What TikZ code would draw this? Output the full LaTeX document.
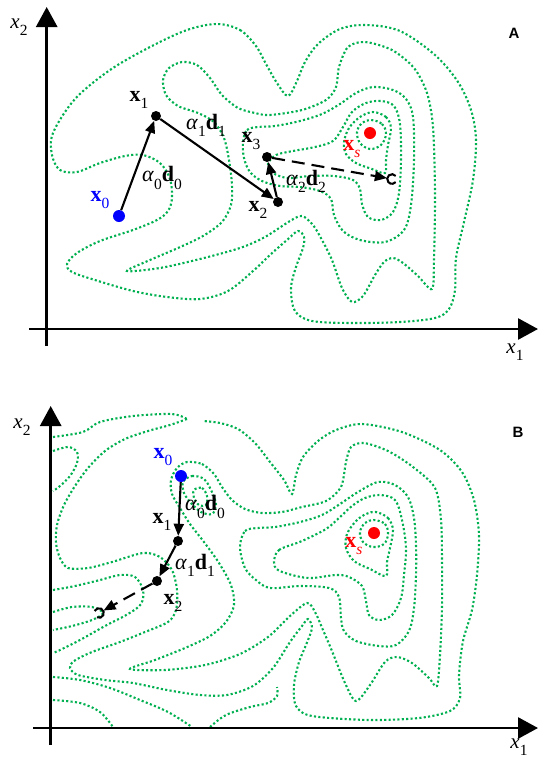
\documentclass[tikz,border=0pt]{standalone}
\usepackage{fontspec}
\setmainfont{Liberation Serif}
\newfontfamily\panelfont{Liberation Sans}
\usetikzlibrary{arrows.meta}
\definecolor{cgreen}{RGB}{0,176,80}
\definecolor{pblue}{RGB}{0,0,255}
\definecolor{pred}{RGB}{255,0,0}
\newcommand\sbs[1]{\raisebox{-0.33em}{\fontsize{15.5}{16}\selectfont\mdseries\upshape #1}}
\tikzset{
  contour/.style={draw=cgreen, line width=2.1pt, dash pattern=on 2.1pt off 2.3pt},
  axisline/.style={line width=2.8pt, -{Triangle[length=20pt,width=21pt]}},
  arr/.style={line width=2.1pt, -{Triangle[length=12pt,width=10pt]}},
  darr/.style={arr, dash pattern=on 13pt off 7pt},
  dotpt/.style={circle, fill=black, inner sep=0pt, minimum size=10pt},
  bluept/.style={dotpt, fill=pblue, minimum size=12pt},
  redpt/.style={dotpt, fill=pred, minimum size=12pt},
  endpt/.style={circle, inner sep=0pt, minimum size=10pt},
  lab/.style={font=\fontsize{22}{24}\selectfont, inner sep=0pt},
  axlab/.style={font=\fontsize{21}{22}\selectfont, inner sep=0pt},
  panellab/.style={font=\fontsize{15}{17}\selectfont\panelfont\bfseries, inner sep=0pt}
}
\begin{document}
\begin{tikzpicture}[x=1pt,y=-1pt]
\useasboundingbox (0,0) rectangle (539,761);

% ================= PANEL A =================
\draw[contour] plot[smooth cycle, tension=0.55] coordinates {
(217,24) (240,30) (256,46) (266,64) (277,83) (288,96) (297,81) (305,62) (318,44) (340,29) (366,25) (400,31) (435,55) (458,82) (471,110) (476,140) (473,180) (464,222) (456,258) (455,290) (449,309) (435,318) (400,322) (352,323) (312,321) (295,311) (291,288) (296,267) (303,248) (304,237) (298,231) (287,240) (271,254) (253,271) (228,291) (200,299) (167,297) (133,291) (95,280) (72,272) (67,264) (77,253) (100,241) (133,230) (157,220) (168,211) (172,198) (170,179) (160,163) (143,155) (125,156) (100,163) (77,172) (60,170) (52,155) (53,133) (75,99) (110,70) (150,47) (187,30)};
\draw[contour] plot[smooth cycle, tension=0.5] coordinates {
(182,62) (197,65) (210,78) (222,95) (238,108) (255,113) (270,115) (302,110) (326,100) (336,87) (339,67) (348,47) (365,42) (392,50) (414,68) (427,93) (433,127) (435,193) (434,260) (432,289) (418,276) (403,263) (393,258) (384,262) (375,275) (363,296) (352,302) (342,288) (332,260) (322,240) (313,225) (302,216) (290,221) (265,237) (240,248) (200,259) (160,268) (127,271) (150,260) (178,248) (203,236) (222,222) (231,205) (232,185) (229,160) (224,138) (214,122) (198,113) (178,106) (166,95) (163,80) (169,68)};
\draw[contour] plot[smooth cycle, tension=0.55] coordinates {
(243,142) (247,130) (258,127) (275,126) (300,121) (322,114) (340,104) (356,93) (373,87) (393,90) (406,99) (413,117) (414,160) (411,205) (404,230) (385,242) (360,240) (343,231) (334,215) (331,199) (320,191) (300,187) (280,186) (262,181) (250,172) (244,158)};
\draw[contour] plot[smooth cycle, tension=0.55] coordinates {
(268,164) (276,155) (293,151) (315,147) (333,141) (343,127) (352,112) (366,103) (381,101) (394,106) (400,124) (401,160) (399,193) (393,212) (381,220) (368,217) (362,204) (360,189) (353,180) (334,176) (310,176) (288,178) (273,173)};
\draw[contour] plot[smooth cycle, tension=0.55] coordinates {
(373,112) (386,117) (391,128) (388,145) (386,160) (385,173) (372,169) (356,163) (346,154) (344,142) (349,128) (360,117)};
\draw[contour] plot[smooth cycle, tension=0.6] coordinates {
(371,120) (382,124) (386,134) (381,145) (370,149) (360,143) (357,132) (362,123)};

\coordinate (AyB) at (46.7,346);
\coordinate (AyT) at (46.7,7);
\coordinate (AxL) at (29,329);
\coordinate (AxR) at (538,329);
\draw[axisline] (AyB) -- (AyT);
\draw[axisline] (AxL) -- (AxR);
\node[axlab] (ax2) at (19,27) {\textit{x}\sbs{2}};
\node[axlab] (ax1) at (515,352) {\textit{x}\sbs{1}};
\node[panellab] (pA) at (514,33) {A};

\node[bluept] (a0) at (119,216) {};
\node[dotpt] (a1) at (156,116) {};
\node[dotpt] (a2) at (278,202) {};
\node[dotpt] (a3) at (267,157) {};
\node[redpt] (aS) at (370,133) {};
\node[endpt] (aC) at (392,179) {};
\draw[line width=2.1pt] (aC.center) ++(40:4.8pt) arc[start angle=40, end angle=320, radius=4.8pt];

\draw[arr] (a0) -- (a1);
\draw[arr] (a1) -- (a2);
\draw[arr] (a2) -- (a3);
\draw[darr] (a3) -- (aC);

\node[lab, text=pblue] (la0) at (100,200) {\textbf{x}\sbs{0}};
\node[lab] (la1) at (139,100) {\textbf{x}\sbs{1}};
\node[lab] (la2) at (258,210) {\textbf{x}\sbs{2}};
\node[lab] (la3) at (251,141) {\textbf{x}\sbs{3}};
\node[lab] (lad0) at (162,178) {\textit{α}\sbs{0}\textbf{d}\sbs{0}};
\node[lab] (lad1) at (206,125) {\textit{α}\sbs{1}\textbf{d}\sbs{1}};
\node[lab] (lad2) at (306,181) {\textit{α}\sbs{2}\textbf{d}\sbs{2}};
\node[lab, text=pred] (laS) at (352,149) {\textbf{x}\sbs{\itshape s}};

% ================= PANEL B =================
\draw[contour] plot[smooth, tension=0.5] coordinates {
(53,437) (83,432) (100,422) (133,416) (172,414) (187,419)};
\draw[contour] plot[smooth, tension=0.5] coordinates {
(187,419) (170,425) (148,431) (125,439) (105,451) (88,468) (75,486) (64,505) (57,525) (56,543) (60,558) (68,568) (88,568) (112,562) (143,553) (160,557) (172,570) (177,590) (176,610) (168,622) (145,632) (120,642) (92,652) (74,661) (70,668) (78,675) (105,680) (133,683) (167,690) (200,695) (227,695) (253,686) (273,668) (290,642) (302,626) (308,619) (312,628) (306,645) (299,662) (294,685) (296,706) (312,716) (369,720) (419,718) (450,711) (460,698) (459,675) (463,641) (472,610) (477,575) (479,535) (474,500) (462,472) (440,450) (402,432) (362,424) (336,430) (318,441) (303,457) (296,475) (292,494) (284,480) (270,462) (255,443) (238,429) (220,423) (203,421)};
\draw[contour] plot[smooth, tension=0.55] coordinates {
(53,451) (68,447) (77,452) (77,463) (70,476) (60,486) (53,491)};
\draw[contour] plot[smooth, tension=0.55] coordinates {
(53,590) (75,586) (100,580) (120,575) (135,577) (143,590) (141,604) (128,614) (105,626) (80,640) (60,650) (53,653)};
\draw[contour] plot[smooth, tension=0.55] coordinates {
(53,612) (72,607) (92,607) (103,613) (92,620) (72,626) (53,630)};
\draw[contour] plot[smooth, tension=0.55] coordinates {
(53,677) (80,680) (110,688) (140,700) (168,712) (192,727)};
\draw[contour] plot[smooth, tension=0.55] coordinates {
(53,700) (80,703) (100,712) (113,727)};
\draw[contour] plot[smooth, tension=0.55] coordinates {
(210,727) (226,715) (250,707) (268,703) (277,696) (277,687)};
\draw[contour] plot[smooth cycle, tension=0.5] coordinates {
(187,462) (202,464) (214,474) (222,487) (232,500) (245,509) (262,513) (282,512) (302,507) (326,501) (341,487) (346,462) (351,447) (364,443) (388,451) (413,467) (435,488) (441,520) (442,560) (442,608) (440,655) (437,686) (429,678) (412,663) (397,657) (385,662) (370,685) (356,701) (345,683) (332,651) (323,630) (315,612) (307,603) (290,616) (268,637) (240,654) (205,665) (165,670) (130,669) (155,660) (185,648) (210,636) (226,622) (234,605) (231,585) (219,563) (204,542) (190,524) (180,508) (172,494) (171,480) (177,468)};
\draw[contour] plot[smooth cycle, tension=0.55] coordinates {
(183,482) (192,476) (204,479) (211,490) (216,504) (212,514) (201,512) (191,503) (184,493)};
\draw[contour] plot[smooth cycle, tension=0.6] coordinates {
(194,490) (202,488) (207,496) (206,505) (199,505) (194,498)};
\draw[contour] plot[smooth cycle, tension=0.55] coordinates {
(240,547) (245,531) (258,528) (275,527) (300,522) (322,515) (340,504) (358,492) (378,482) (395,485) (408,497) (414,518) (416,545) (416,575) (414,608) (409,631) (396,645) (379,646) (356,641) (344,631) (341,618) (339,597) (329,588) (300,586) (270,588) (256,580) (245,568)};
\draw[contour] plot[smooth cycle, tension=0.55] coordinates {
(274,562) (279,550) (302,541) (326,529) (339,518) (352,506) (365,498) (380,495) (395,500) (402,520) (406,548) (404,575) (401,598) (392,615) (379,620) (369,615) (366,601) (362,586) (349,577) (336,575) (312,578) (296,576) (278,570)};
\draw[contour] plot[smooth cycle, tension=0.55] coordinates {
(376,512) (388,518) (393,530) (390,548) (387,562) (386,576) (370,569) (354,561) (346,548) (347,534) (356,521) (366,514)};
\draw[contour] plot[smooth cycle, tension=0.6] coordinates {
(374,520) (385,524) (388,534) (384,544) (373,547) (363,542) (360,532) (365,523)};

\coordinate (ByB) at (50.7,745);
\coordinate (ByT) at (50.7,406);
\coordinate (BxL) at (33,728);
\coordinate (BxR) at (538,728);
\draw[axisline] (ByB) -- (ByT);
\draw[axisline] (BxL) -- (BxR);
\node[axlab] (bx2) at (22,427) {\textit{x}\sbs{2}};
\node[axlab] (bx1) at (519,747) {\textit{x}\sbs{1}};
\node[panellab] (pB) at (518,432) {B};

\node[bluept] (b0) at (181,476) {};
\node[dotpt] (b1) at (178,541) {};
\node[dotpt] (b2) at (157,581) {};
\node[redpt] (bS) at (374,533) {};
\node[endpt] (bC) at (99,613) {};
\draw[line width=2.1pt] (bC.center) ++(245:4.8pt) arc[start angle=245, end angle=515, radius=4.8pt];

\draw[arr] (b0) -- (b1);
\draw[arr] (b1) -- (b2);
\draw[darr] (b2) -- (bC);

\node[lab, text=pblue] (lb0) at (163,457) {\textbf{x}\sbs{0}};
\node[lab] (lb1) at (162,522) {\textbf{x}\sbs{1}};
\node[lab] (lb2) at (173,603) {\textbf{x}\sbs{2}};
\node[lab] (lbd0) at (205,507) {\textit{α}\sbs{0}\textbf{d}\sbs{0}};
\node[lab] (lbd1) at (195,565) {\textit{α}\sbs{1}\textbf{d}\sbs{1}};
\node[lab, text=pred] (lbS) at (354,546) {\textbf{x}\sbs{\itshape s}};
\end{tikzpicture}
\end{document}
